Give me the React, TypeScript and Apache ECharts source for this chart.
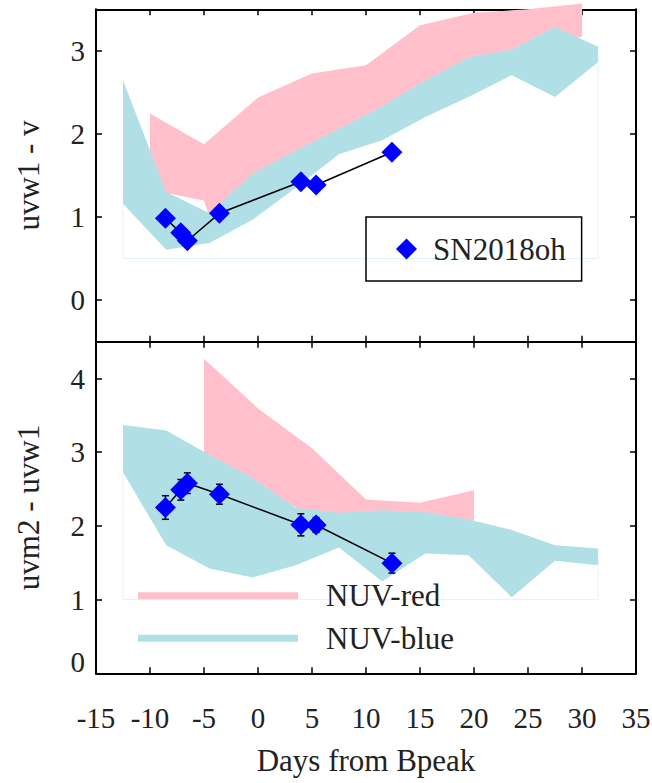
import React, { useEffect, useRef } from 'react';
import * as echarts from 'echarts';

// SN2018oh photometry (days from B peak)
const epochs = [-8.57, -7.15, -6.54, -3.57, 3.97, 5.38, 12.4];
const uvw1V = [0.985, 0.81, 0.715, 1.045, 1.425, 1.385, 1.78];
const uvm2Uvw1 = [2.25, 2.49, 2.58, 2.43, 2.015, 2.013, 1.495];
const uvm2Uvw1Err = [0.16, 0.14, 0.14, 0.135, 0.15, 0.1, 0.135];

// NUV-red band (top panel: uvw1 - v)
const redTopUpperX = [-10, -5, 0, 5, 10, 15, 20, 25, 30];
const redTopUpperY = [2.245, 1.876, 2.438, 2.727, 2.827, 3.309, 3.458, 3.5, 3.57];
const redTopLowerX = [-10, -5, -4.5, 0, 5, 10, 15, 20, 25, 30];
const redTopLowerY = [1.33, 1.2, 1.0, 1.3, 1.75, 2.1, 2.5, 2.85, 3.05, 3.17];

// NUV-blue band (top panel)
const blueX = [-12.5, -8.5, -4.5, -0.5, 3.5, 7.5, 11.5, 15.5, 19.5, 23.5, 27.5, 31.5];
const blueTopUpperY = [2.647, 1.301, 1.048, 1.522, 1.8, 2.064, 2.333, 2.647, 2.92, 3.016, 3.289, 3.048];
const blueTopLowerY = [1.161, 0.606, 0.687, 0.968, 1.353, 1.755, 1.924, 2.205, 2.446, 2.707, 2.446, 2.867];

// NUV-red band (bottom panel: uvm2 - uvw1)
const redBotX = [-5, 0, 5, 10, 15, 20];
const redBotUpperY = [4.27, 3.595, 3.055, 2.358, 2.313, 2.484];
const redBotLowerY = [2.95, 2.5, 2.15, 2.15, 2.15, 2.07];

// NUV-blue band (bottom panel)
const blueBotUpperY = [3.37, 3.294, 2.965, 2.65, 2.246, 2.178, 2.214, 2.187, 2.088, 1.944, 1.737, 1.692];
const blueBotLowerY = [2.727, 1.737, 1.422, 1.301, 1.467, 1.706, 1.247, 1.625, 1.602, 1.031, 1.526, 1.467];

// faint outline baselines
const topBaseline = 0.5;
const botBaseline = 1.0;

const xTicks = { min: -15, max: 35, interval: 5 };
const topY = { min: -0.5, max: 3.5 };
const botY = { min: 0, max: 4.5, interval: 1 };

const FONT = "'Liberation Serif', 'Times New Roman', Times, serif";
const TXT = '#222';
const RED = '#FFC0CB';
const BLUE = '#B0E0E6';

function bandRender(ux: number[], uy: number[], lx: number[], ly: number[], color: string) {
  return (params: any, api: any) => {
    const pts: number[][] = [];
    for (let i = 0; i < ux.length; i++) pts.push(api.coord([ux[i], uy[i]]));
    for (let i = lx.length - 1; i >= 0; i--) pts.push(api.coord([lx[i], ly[i]]));
    return { type: 'polygon', shape: { points: pts }, style: { fill: color } };
  };
}

function band(name: string, color: string, idx: number, ux: number[], uy: number[], lx: number[], ly: number[]) {
  return {
    type: 'custom',
    name,
    xAxisIndex: idx * 2,
    yAxisIndex: idx * 2,
    coordinateSystem: 'cartesian2d',
    itemStyle: { color },
    clip: false,
    silent: true,
    data: [[0, 1]],
    renderItem: bandRender(ux, uy, lx, ly, color),
  };
}

function xAxisDef(grid: number, position: string, labels: boolean) {
  return {
    type: 'value',
    gridIndex: grid,
    position,
    ...xTicks,
    axisLine: { show: true, onZero: false, lineStyle: { color: '#000', width: 2 } },
    axisTick: { show: true, inside: true, length: 6, lineStyle: { color: '#000', width: 1.5 } },
    axisLabel: {
      show: labels,
      margin: 30,
      fontFamily: FONT,
      fontSize: 29,
      color: TXT,
    },
    splitLine: { show: false },
    name: labels ? 'Days from Bpeak' : '',
    nameLocation: 'middle',
    nameGap: 72,
    nameTextStyle: { fontFamily: FONT, fontSize: 31, color: TXT },
  };
}

function yAxisDef(grid: number, position: string, labels: boolean, range: any, name: string, isBottom: boolean) {
  return {
    type: 'value',
    gridIndex: grid,
    position,
    ...range,
    splitNumber: 4,
    axisLine: { show: true, onZero: false, lineStyle: { color: '#000', width: 2 } },
    axisTick: { show: true, inside: true, length: 6, lineStyle: { color: '#000', width: 1.5 } },
    axisLabel: {
      show: labels,
      margin: 11,
      fontFamily: FONT,
      fontSize: 29,
      color: TXT,
      lineHeight: 22,
      showMinLabel: isBottom,
      showMaxLabel: false,
      formatter: (v: number) => (isBottom && v === 0 ? '0\n' : String(v)),
    },
    splitLine: { show: false },
    name: labels ? name : '',
    nameLocation: 'middle',
    nameGap: 52,
    nameRotate: 90,
    nameTextStyle: { fontFamily: FONT, fontSize: 31, color: TXT },
  };
}

export default function App() {
  const ref = useRef<HTMLDivElement>(null);
  useEffect(() => {
    if (!ref.current) return;
    const chart = echarts.init(ref.current, undefined, { renderer: 'svg' });
    const option: any = {
      animation: false,
      backgroundColor: '#fff',
      textStyle: { fontFamily: FONT },
      grid: [
        { left: 96, top: 9.3, width: 540, height: 332.4, containLabel: false, outerBoundsMode: 'none' },
        { left: 96, top: 341.7, width: 540, height: 331.6, containLabel: false, outerBoundsMode: 'none' },
      ],
      xAxis: [
        xAxisDef(0, 'bottom', false),
        xAxisDef(0, 'top', false),
        xAxisDef(1, 'bottom', true),
        xAxisDef(1, 'top', false),
      ],
      yAxis: [
        yAxisDef(0, 'left', true, topY, 'uvw1 - v', false),
        yAxisDef(0, 'right', false, topY, '', false),
        yAxisDef(1, 'left', true, botY, 'uvm2 - uvw1', true),
        yAxisDef(1, 'right', false, botY, '', true),
      ],
      legend: [
        {
          data: [{ name: 'SN2018oh', icon: 'diamond' }],
          left: 366,
          top: 217,
          padding: [15, 16, 15, 30],
          itemWidth: 21,
          itemHeight: 21,
          borderColor: '#000',
          borderWidth: 1.5,
          selectedMode: false,
          textStyle: { fontFamily: FONT, fontSize: 31, color: TXT, lineHeight: 34, padding: [0, 0, 0, 11] },
        },
        {
          data: ['NUV-red', 'NUV-blue'],
          orient: 'vertical',
          left: 138,
          top: 578.7,
          padding: 0,
          icon: 'rect',
          itemWidth: 160,
          itemHeight: 7,
          itemGap: 8.6,
          selectedMode: false,
          textStyle: { fontFamily: FONT, fontSize: 31, color: TXT, lineHeight: 34, padding: [0, 0, 0, 23] },
        },
      ],
      series: [
        band('NUV-red', RED, 0, redTopUpperX, redTopUpperY, redTopLowerX, redTopLowerY),
        band('NUV-blue', BLUE, 0, blueX, blueTopUpperY, blueX, blueTopLowerY),
        band('NUV-red', RED, 1, redBotX, redBotUpperY, redBotX, redBotLowerY),
        band('NUV-blue', BLUE, 1, blueX, blueBotUpperY, blueX, blueBotLowerY),
        {
          type: 'line',
          name: 'outline',
          xAxisIndex: 0,
          yAxisIndex: 0,
          symbol: 'none',
          silent: true,
          lineStyle: { color: '#e2f3f5', width: 1 },
          data: [
            [blueX[0], blueTopLowerY[0]],
            [blueX[0], topBaseline],
            [blueX[blueX.length - 1], topBaseline],
            [blueX[blueX.length - 1], blueTopLowerY[blueX.length - 1]],
          ],
        },
        {
          type: 'line',
          name: 'outline2',
          xAxisIndex: 2,
          yAxisIndex: 2,
          symbol: 'none',
          silent: true,
          lineStyle: { color: '#e2f3f5', width: 1 },
          data: [
            [blueX[0], blueBotLowerY[0]],
            [blueX[0], botBaseline],
            [blueX[blueX.length - 1], botBaseline],
            [blueX[blueX.length - 1], blueBotLowerY[blueX.length - 1]],
          ],
        },
        {
          type: 'custom',
          name: 'err',
          xAxisIndex: 2,
          yAxisIndex: 2,
          silent: true,
          data: epochs.map((x, i) => [x, uvm2Uvw1[i], uvm2Uvw1Err[i]]),
          renderItem: (params: any, api: any) => {
            const x = api.value(0);
            const y = api.value(1);
            const e = api.value(2);
            const t = api.coord([x, y + e]);
            const b = api.coord([x, y - e]);
            const w = 3.5;
            const st = { stroke: '#000', lineWidth: 1.5 };
            return {
              type: 'group',
              children: [
                { type: 'line', shape: { x1: t[0], y1: t[1], x2: b[0], y2: b[1] }, style: st },
                { type: 'line', shape: { x1: t[0] - w, y1: t[1], x2: t[0] + w, y2: t[1] }, style: st },
                { type: 'line', shape: { x1: b[0] - w, y1: b[1], x2: b[0] + w, y2: b[1] }, style: st },
              ],
            };
          },
        },
        {
          type: 'line',
          name: 'SN2018oh',
          xAxisIndex: 0,
          yAxisIndex: 0,
          symbol: 'diamond',
          symbolSize: 21,
          itemStyle: { color: '#0000ff' },
          lineStyle: { color: '#000', width: 1.5 },
          data: epochs.map((x, i) => [x, uvw1V[i]]),
        },
        {
          type: 'line',
          name: 'SN2018oh',
          xAxisIndex: 2,
          yAxisIndex: 2,
          symbol: 'diamond',
          symbolSize: 21,
          itemStyle: { color: '#0000ff' },
          lineStyle: { color: '#000', width: 1.5 },
          data: epochs.map((x, i) => [x, uvm2Uvw1[i]]),
        },
      ],
    };
    chart.setOption(option);
    return () => chart.dispose();
  }, []);
  return (
    <div
      ref={ref}
      style={{ position: 'fixed', left: 0, top: 0, width: 652, height: 783, background: '#fff' }}
    />
  );
}
